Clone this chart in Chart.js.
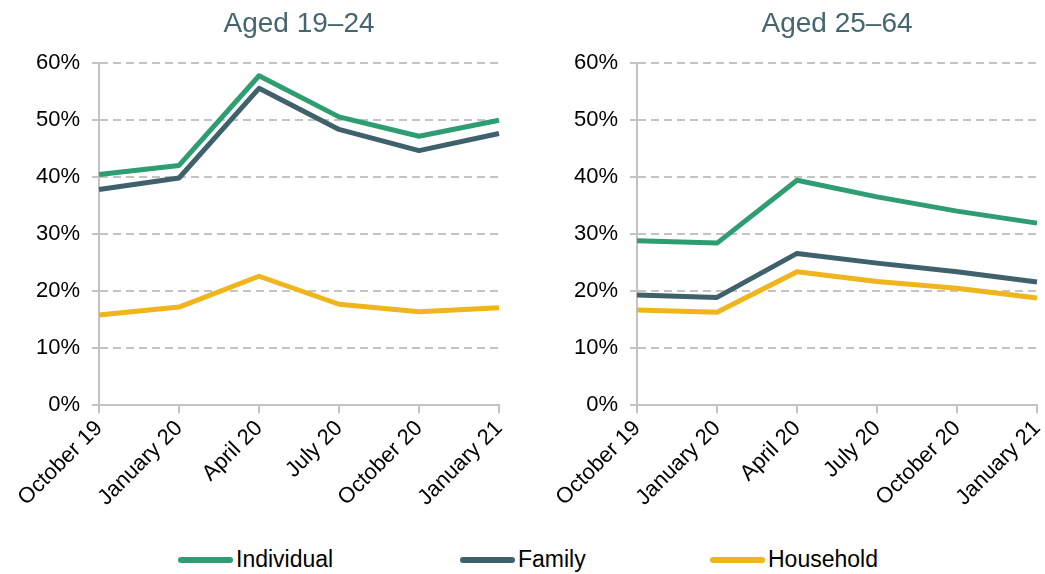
<!DOCTYPE html>
<html>
<head>
<meta charset="utf-8">
<script src="https://cdn.jsdelivr.net/npm/chart.js@4/dist/chart.umd.min.js"></script>
<style>
  body { margin: 0; background: #fff; width: 1045px; height: 574px; position: relative; overflow: hidden; font-family: "Liberation Sans", Arial, sans-serif; }
  .panel { position: absolute; top: 0; width: 520px; height: 513px; }
  #legend { position: absolute; left: 0; top: 546px; width: 1045px; height: 28px; font-size: 23px; color: #000; }
  .item { position: absolute; top: 0; display: flex; align-items: center; }
  .swatch { width: 55px; height: 6px; border-radius: 3px; margin-right: 3px; }
</style>
</head>
<body>
<div class="panel" style="left:0;"><canvas id="young"></canvas></div>
<div class="panel" style="left:538px;"><canvas id="older"></canvas></div>
<div id="legend"></div>
<script>
const months = ['October 19', 'January 20', 'April 20', 'July 20', 'October 20', 'January 21'];
const yTicks = [0, 10, 20, 30, 40, 50, 60];

const seriesNames = ['Individual', 'Family', 'Household'];
const seriesColors = ['#2e9e72', '#3e616b', '#f0b41c'];

// aged 19-24
const young_individual = [40.4, 42.0, 57.7, 50.5, 47.1, 49.9];
const young_family     = [37.8, 39.8, 55.5, 48.3, 44.6, 47.6];
const young_household  = [15.8, 17.2, 22.6, 17.7, 16.4, 17.1];

// aged 25-64
const older_individual = [28.8, 28.4, 39.4, 36.5, 34.0, 31.9];
const older_family     = [19.3, 18.9, 26.6, 24.9, 23.4, 21.6];
const older_household  = [16.7, 16.3, 23.4, 21.7, 20.5, 18.8];

const gridGrey = '#c3c3c3';
const font = { family: '"Liberation Sans", Arial, sans-serif', size: 22 };

function makeChart(id, title, values) {
    const datasets = values.map((data, i) => ({
        label: seriesNames[i],
        data: data,
        borderColor: seriesColors[i],
        backgroundColor: seriesColors[i],
        borderWidth: 5,
        pointRadius: 0,
        tension: 0,
        borderJoinStyle: 'round',
        borderCapStyle: 'butt'
    }));
    // first series drawn on top
    datasets.reverse();

    return new Chart(document.getElementById(id), {
        type: 'line',
        data: { labels: months, datasets: datasets },
        options: {
            responsive: true,
            maintainAspectRatio: false,
            animation: false,
            layout: { padding: { left: 24, right: 21, top: 5, bottom: 0 } },
            plugins: {
                legend: { display: false },
                tooltip: { enabled: false },
                title: {
                    display: true,
                    fullSize: false,
                    text: title,
                    color: '#45666f',
                    font: { family: font.family, size: 28, weight: 'normal' },
                    padding: { top: 2, bottom: 22 }
                }
            },
            scales: {
                x: {
                    offset: false,
                    border: { display: true, color: gridGrey, width: 2 },
                    grid: { display: true, drawOnChartArea: false, drawTicks: true, tickLength: 8, color: gridGrey, lineWidth: 2 },
                    ticks: { color: '#000', font: font, minRotation: 45, maxRotation: 45, padding: 2 }
                },
                y: {
                    min: yTicks[0],
                    max: yTicks[yTicks.length - 1],
                    afterBuildTicks: axis => { axis.ticks = yTicks.map(v => ({ value: v })); },
                    border: { display: true, color: gridGrey, width: 2, dash: [8, 5] },
                    grid: { color: gridGrey, lineWidth: 2, tickLength: 7, tickBorderDash: [] },
                    ticks: { color: '#000', font: font, padding: 12, callback: v => v + '%' }
                }
            }
        }
    });
}

makeChart('young', 'Aged 19–24', [young_individual, young_family, young_household]);
makeChart('older', 'Aged 25–64', [older_individual, older_family, older_household]);

const legendX = [178, 460, 710];
const legend = document.getElementById('legend');
seriesNames.forEach((name, i) => {
    const item = document.createElement('div');
    item.className = 'item';
    item.style.left = legendX[i] + 'px';
    item.innerHTML = '<div class="swatch" style="background:' + seriesColors[i] + '"></div><span>' + name + '</span>';
    legend.appendChild(item);
});
</script>
</body>
</html>
